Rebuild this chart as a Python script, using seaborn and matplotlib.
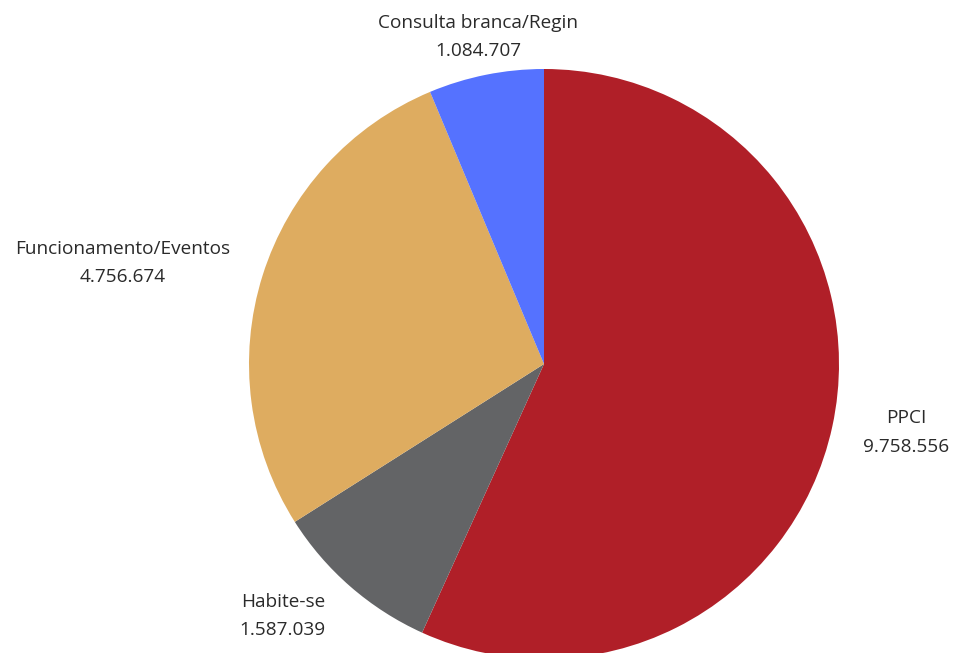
import numpy as np
import matplotlib
matplotlib.use("Agg")
import matplotlib.pyplot as plt
import seaborn as sns

categorias = ["PPCI", "Habite-se", "Funcionamento/Eventos", "Consulta branca/Regin"]
valores = [9758556, 1587039, 4756674, 1084707]
rotulos_valor = ["9.758.556", "1.587.039", "4.756.674", "1.084.707"]
cores = ["#B01F28", "#636466", "#DEAC60", "#5572FF"]

sns.set_theme(style="white")
plt.rcParams['font.family'] = ['Open Sans', 'DejaVu Sans']

fig = plt.figure(figsize=(9.54, 6.53), dpi=100)
ax = fig.add_axes([0, 0, 1, 1])

cx, cy, r = 544, 653 - 364, 295
wedges, _ = ax.pie(valores, colors=cores, startangle=90, counterclock=False,
                   center=(cx, cy), radius=r, frame=True,
                   wedgeprops=dict(linewidth=0))
ax.set_xlim(0, 954)
ax.set_ylim(0, 653)
ax.set_aspect("equal")
ax.axis("off")

# distance of each label from the centre (label placement tweak)
dist_label = [1.25, 1.23, 1.47, 1.13]
ajuste_ang = [1.5, -5, 4, 0]
for w, nome, txt, d, da in zip(wedges, categorias, rotulos_valor, dist_label, ajuste_ang):
    ang = np.deg2rad((w.theta1 + w.theta2) / 2 + da)
    x = cx + d * r * np.cos(ang)
    y = cy + d * r * np.sin(ang)
    ax.text(x, y, nome + "\n" + txt, ha="center", va="center",
            fontsize=13.7, color="#2a2a2a", linespacing=1.72)

fig.savefig("out.png", dpi=100)
